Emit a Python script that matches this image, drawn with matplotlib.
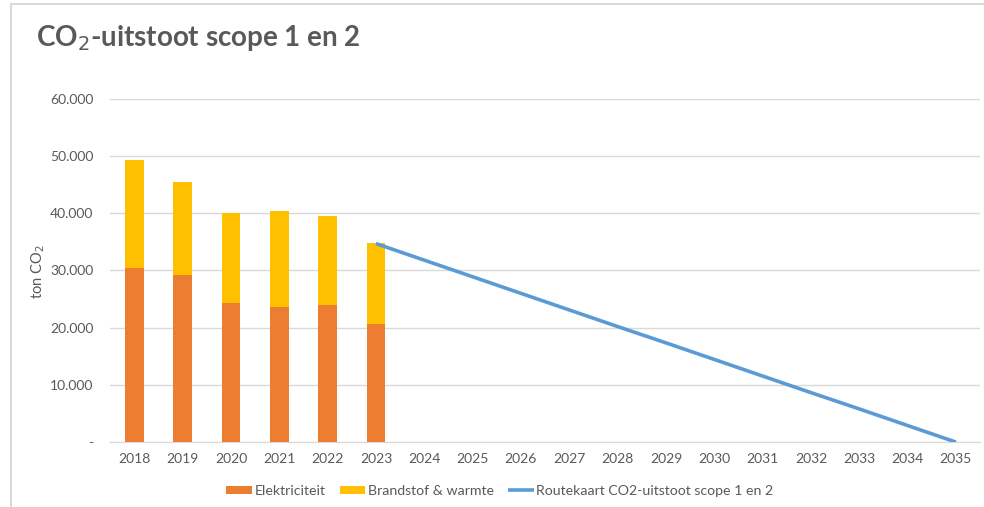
import matplotlib.pyplot as plt
import numpy as np
from matplotlib.ticker import FuncFormatter

years = [str(y) for y in range(2018, 2036)]
bar_years = ["2018", "2019", "2020", "2021", "2022", "2023"]
elektriciteit = [30500, 29250, 24300, 23600, 23950, 20650]
brandstof = [18750, 16250, 15700, 16850, 15500, 14100]
route_years = [str(y) for y in range(2023, 2036)]
routekaart = [34700, 31800, 28900, 26000, 23100, 20200, 17350, 14450, 11550, 8650, 5800, 2900, 0]

grey = "#595959"
plt.rcParams["font.family"] = ["Lato", "DejaVu Sans"]

fig = plt.figure(figsize=(9.84, 5.07), dpi=100)
ax = fig.add_axes([0.112, 0.128, 0.884, 0.677])

x = np.arange(len(years))
xb = [years.index(y) for y in bar_years]
xr = [years.index(y) for y in route_years]

b1 = ax.bar(xb, elektriciteit, width=0.39, color="#ed7d31", label="Elektriciteit", zorder=2)
b2 = ax.bar(xb, brandstof, width=0.39, bottom=elektriciteit, color="#ffc000",
            label="Brandstof & warmte", zorder=2)
l1, = ax.plot(xr, routekaart, color="#5b9bd5", lw=2.6, solid_capstyle="butt",
              label="Routekaart CO2-uitstoot scope 1 en 2", zorder=3)

ax.set_xlim(-0.5, len(years) - 0.5)
ax.set_ylim(0, 60000)
ax.set_yticks(range(0, 60001, 10000))
ax.yaxis.set_major_formatter(FuncFormatter(
    lambda v, p: "-" if v == 0 else f"{int(v):,}".replace(",", ".")))
ax.set_xticks(x)
ax.set_xticklabels(years)
ax.tick_params(length=0, colors=grey, labelsize=10)
ax.tick_params(axis="y", pad=12)
ax.tick_params(axis="x", pad=8)
ax.grid(axis="y", color="#d9d9d9", lw=1, zorder=0)
for s in ["top", "right", "left"]:
    ax.spines[s].set_visible(False)
ax.spines["bottom"].set_color("#d9d9d9")

fig.text(0.039, 0.464, "ton CO$_2$", color=grey, fontsize=10.5, rotation=90,
         ha="center", va="center")

fig.text(0.037, 0.925, "CO$_2$-uitstoot scope 1 en 2", fontsize=20, fontweight="bold",
         color=grey, va="center", ha="left")

# chart area border (left and top only visible in the crop)
fig.add_artist(plt.Line2D([0.011, 0.011], [0, 0.993], color="#d9d9d9", lw=1.5))
fig.add_artist(plt.Line2D([0.011, 1.0], [0.993, 0.993], color="#d9d9d9", lw=1.5))

leg = fig.legend([b1, b2, l1], [b1.get_label(), b2.get_label(), l1.get_label()],
                 loc="center", bbox_to_anchor=(0.508, 0.032), ncol=3, frameon=False,
                 fontsize=10.2, handlelength=1.8, handleheight=0.45, columnspacing=1.0,
                 handletextpad=0.2)
for t in leg.get_texts():
    t.set_color(grey)

fig.savefig("out.png", dpi=100)
